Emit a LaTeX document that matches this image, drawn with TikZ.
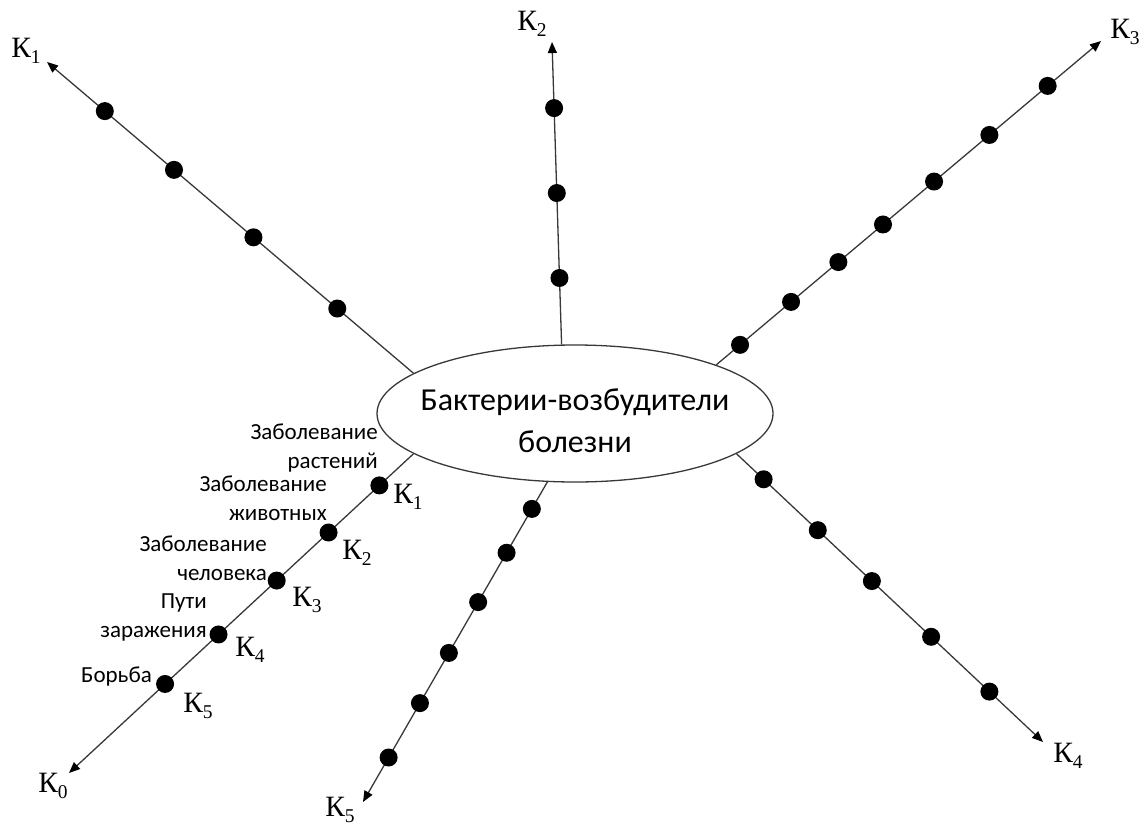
\documentclass[tikz,border=0pt]{standalone}
\usepackage{fontspec}
\setmainfont{Carlito}
\newfontfamily\kfont{Liberation Serif}
\usetikzlibrary{shapes.geometric,arrows.meta,calc}
% K with a numeric index, as used on every ray
\newcommand{\Kmark}[1]{{\kfont\fontsize{29.5}{29.5}\selectfont К\raisebox{-0.22em}{\fontsize{19.5}{19.5}\selectfont #1}}}

\tikzset{
  ray/.style={draw=black!78, line width=1.3pt, -{Triangle[length=11pt,width=9pt,color=black]}},
  dot/.style={circle, fill=black, inner sep=0pt, minimum size=18pt},
  klabel/.style={inner sep=0pt},
  note/.style={align=right, anchor=base east, inner sep=0pt, font=\fontsize{23}{29}\selectfont},
}

\begin{document}
\begin{tikzpicture}[x=1pt,y=-1pt]
\useasboundingbox (0,0) rectangle (1147,825);

% central ellipse and its caption
\node[draw=black!78, line width=1.3pt, ellipse, minimum width=396pt, minimum height=137pt,
      inner sep=0pt] (c) at (575,413.5) {};
\node[align=center, inner sep=0pt, font=\fontsize{32}{42}\selectfont] (ctext) at (575,421)
      {Бактерии-возбудители\\болезни};

% ray ends
\coordinate (t1) at (47,62);
\coordinate (t2) at (552,42);
\coordinate (t3) at (1101,41);
\coordinate (t4) at (1043,742);
\coordinate (t5) at (363,802);
\coordinate (t0) at (69,773);

% rays
\draw[ray] (c.166) -- (t1);
\draw[ray] (c.101.6) -- (t2);
\draw[ray] (c.19) -- (t3);
\draw[ray] (c.-14.9) -- (t4);
\draw[ray] (c.-112.2) -- (t5);
\draw[ray] (c.194.7) -- (t0);

% points on the rays
\foreach \x/\y [count=\i] in {104/112,173/171,252/239,336/310}
  \node[dot] (a\i) at ($(c.166)!(\x,\y)!(t1)$) {};
\foreach \x/\y [count=\i] in {557/108,557/193,559/278}
  \node[dot] (b\i) at ($(c.101.6)!(\x,\y)!(t2)$) {};
\foreach \x/\y [count=\i] in {741/346,792/303,840/264,886/228,937/185,992/138,1052/91}
  \node[dot] (e\i) at ($(c.19)!(\x,\y)!(t3)$) {};
\foreach \x/\y [count=\i] in {762/481,817/531,871/582,930/638,990/691}
  \node[dot] (f\i) at ($(c.-14.9)!(\x,\y)!(t4)$) {};
\foreach \x/\y [count=\i] in {532/509,507/553,478/602,449/653,418/702,386/756}
  \node[dot] (g\i) at ($(c.-112.2)!(\x,\y)!(t5)$) {};
\foreach \x/\y [count=\i] in {379/485,329/533,278/582,219/635,166/685}
  \node[dot] (h\i) at ($(c.194.7)!(\x,\y)!(t0)$) {};

% labels at the ray ends
\node[klabel] (k1) at (26,51) {\Kmark{1}};
\node[klabel] (k2) at (532,24) {\Kmark{2}};
\node[klabel] (k3) at (1125,32) {\Kmark{3}};
\node[klabel] (k4) at (1068,756) {\Kmark{4}};
\node[klabel] (k5) at (340,810) {\Kmark{5}};
\node[klabel] (k0) at (53,786) {\Kmark{0}};

% labels of the points on the lower-left ray
\node[klabel] (m1) at (408,497) {\Kmark{1}};
\node[klabel] (m2) at (357,553) {\Kmark{2}};
\node[klabel] (m3) at (307,600) {\Kmark{3}};
\node[klabel] (m4) at (250,650) {\Kmark{4}};
\node[klabel] (m5) at (198,706) {\Kmark{5}};

% captions (anchored at the baseline of their last line)
\node[note] (n1) at (378,468) {Заболевание\\растений};
\node[note] (n2) at (327,520) {Заболевание\\животных};
\node[note] (n3) at (267,580) {Заболевание\\человека};
\node[note] (n4) at (207,637) {Пути\\заражения};
\node[note] (n5) at (152,682) {Борьба};
\end{tikzpicture}
\end{document}
